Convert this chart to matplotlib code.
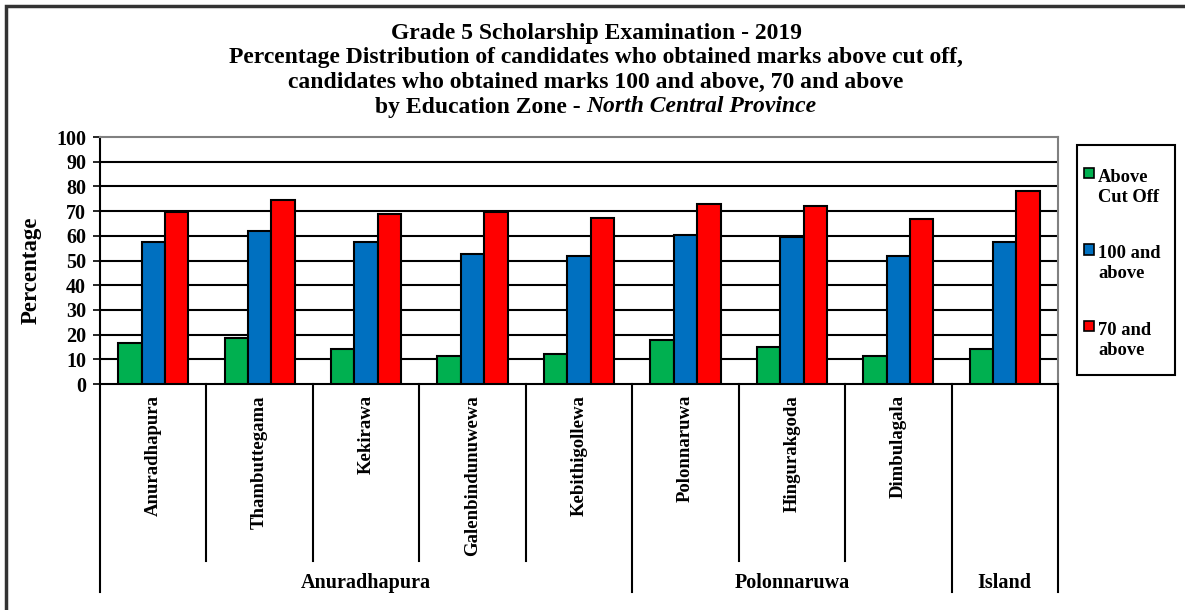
import numpy as np
import matplotlib.pyplot as plt
from matplotlib.patches import Rectangle
from matplotlib.legend_handler import HandlerPatch

plt.rcParams['font.family'] = ['Liberation Serif', 'DejaVu Serif']
plt.rcParams['font.weight'] = 'bold'

# dados do grafico
zonas = ['Anuradhapura', 'Thambuttegama', 'Kekirawa', 'Galenbindunuwewa',
         'Kebithigollewa', 'Polonnaruwa', 'Hingurakgoda', 'Dimbulagala', '']
grupos = ['Anuradhapura', 'Polonnaruwa', 'Island']
zonasPorGrupo = [5, 3, 1]

acimaCorte = [16.7, 18.8, 14.2, 11.2, 12.0, 18.0, 15.1, 11.2, 14.2]
cemOuMais = [57.3, 62.0, 57.3, 52.7, 51.9, 60.3, 59.7, 51.9, 57.3]
setentaOuMais = [69.6, 74.3, 68.8, 69.8, 67.3, 72.7, 71.9, 66.7, 78.1]

series = ['Above\nCut Off', '100 and\nabove', '70 and\nabove']
cores = ['#00B050', '#0070C0', '#FF0000']

W, H = 1185, 610
fig = plt.figure(figsize=(W / 100, H / 100), dpi=100)
ax = fig.add_axes([100 / W, 1 - 384 / H, 958 / W, 247 / H])

x = np.arange(len(zonas))
largura = 0.22
barras = []
for k, valores in enumerate([acimaCorte, cemOuMais, setentaOuMais]):
    b = ax.bar(x + (k - 1) * largura, valores, largura, color=cores[k],
               edgecolor='black', linewidth=1.5, label=series[k], zorder=3)
    barras.append(b)

ax.set_xlim(-0.5, len(zonas) - 0.5)
ax.set_ylim(0, 100)
ax.set_yticks(range(0, 101, 10))
ax.tick_params(axis='y', labelsize=14.5, length=5, width=1.2, pad=5)
for t in ax.get_yticklabels():
    t.set_fontweight('bold')
ax.set_xticks([])
for yv in range(10, 100, 10):
    ax.axhline(yv, color='black', lw=1.5, zorder=1)

for lado in ['top', 'right']:
    ax.spines[lado].set_color('#808080')
for lado in ax.spines:
    ax.spines[lado].set_linewidth(1.5)

ax.set_ylabel('Percentage', fontsize=16.5, fontweight='bold')
ax.yaxis.set_label_coords(-0.0605, 0.46)

# eixo x em dois niveis
tr = ax.get_xaxis_transform()
for i, nome in enumerate(zonas):
    ax.text(i, -0.045, nome, transform=tr, rotation=90, ha='center', va='top',
            fontsize=13.5, fontweight='bold')

inicio = 0
for g, n in zip(grupos, zonasPorGrupo):
    ax.plot([inicio - 0.5, inicio - 0.5], [0, -0.842], transform=tr,
            color='black', lw=1.5, clip_on=False)
    for j in range(inicio + 1, inicio + n):
        ax.plot([j - 0.5, j - 0.5], [0, -0.717], transform=tr,
                color='black', lw=1.5, clip_on=False)
    ax.text(inicio + (n - 1) / 2, -0.806, g, transform=tr, ha='center',
            va='center', fontsize=14.5, fontweight='bold')
    inicio += n
ax.plot([inicio - 0.5, inicio - 0.5], [0, -0.842], transform=tr,
        color='black', lw=1.5, clip_on=False)

# titulo, linha a linha
linhas = ['Grade 5 Scholarship Examination - 2019',
          'Percentage Distribution of candidates who obtained marks above cut off,',
          'candidates who obtained marks 100 and above, 70 and above']
baselines = [39, 63.5, 88, 112.5]
cx = 596 / W
for linha, yb in zip(linhas, baselines):
    fig.text(cx, 1 - yb / H, linha, ha='center', va='baseline',
             fontsize=17, fontweight='bold')
r = fig.canvas.get_renderer()
t1 = fig.text(0, 1 - baselines[3] / H, 'by Education Zone - ', ha='left',
              va='baseline', fontsize=17, fontweight='bold')
t2 = fig.text(0, 1 - baselines[3] / H, 'North Central Province', ha='left',
              va='baseline', fontsize=17, fontweight='bold', style='italic')
w1 = t1.get_window_extent(r).width
w2 = t2.get_window_extent(r).width
x0 = cx * W - (w1 + w2) / 2
t1.set_x(x0 / W)
t2.set_x((x0 + w1) / W)


# legenda: quadrado alinhado com a primeira linha do texto
def quadrado(legend, orig_handle, xdescent, ydescent, width, height, fontsize):
    s = 0.56 * fontsize
    return Rectangle((-xdescent, -ydescent + height - 0.55 * s), s, s)


fig.patches.append(Rectangle((1077 / W, 1 - 375 / H), 98 / W, 230 / H,
                             transform=fig.transFigure, fill=False,
                             edgecolor='black', lw=1.5))
leg = fig.legend(handles=[b.patches[0] for b in barras], labels=series,
                 loc='upper left', bbox_to_anchor=(1084 / W, 1 - 169 / H),
                 fontsize=13.3, frameon=False,
                 handlelength=0.56, handleheight=2.2, handletextpad=0.2,
                 labelspacing=2.16, borderpad=0, borderaxespad=0,
                 handler_map={Rectangle: HandlerPatch(patch_func=quadrado)})
for h in leg.legend_handles:
    h.set_edgecolor('black')
    h.set_linewidth(1.2)

# moldura da figura
fig.patches.append(Rectangle((6 / W, -0.1), 1.1, 1 - 6 / H + 0.1,
                             transform=fig.transFigure, fill=False,
                             edgecolor='#333333', lw=2.5))

fig.savefig('out.png', dpi=100)
